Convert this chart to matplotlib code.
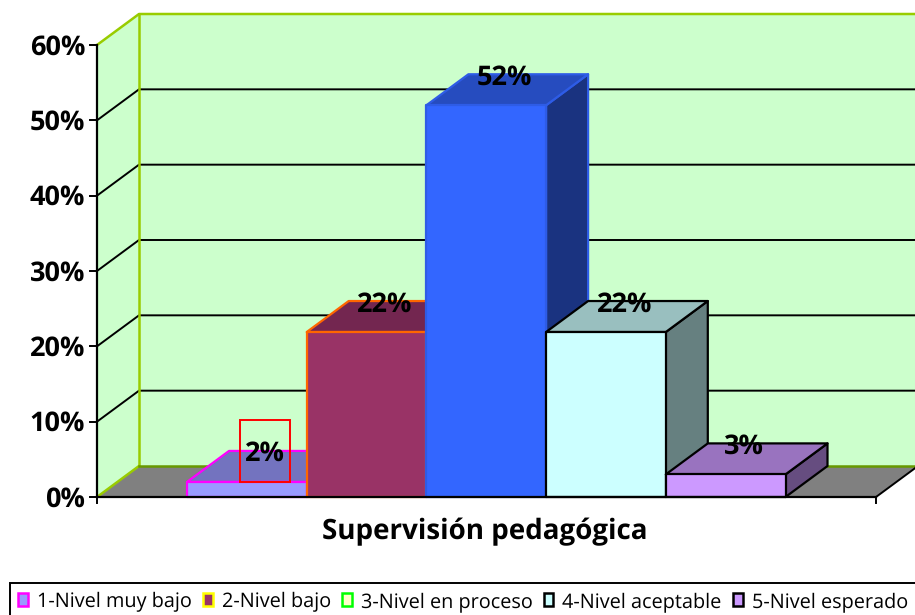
import matplotlib
matplotlib.use("Agg")
import matplotlib.pyplot as plt
from matplotlib.patches import Polygon, Rectangle, Patch

plt.rcParams["text.hinting"] = "no_hinting"

series = ["1-Nivel muy bajo", "2-Nivel bajo", "3-Nivel en proceso", "4-Nivel aceptable", "5-Nivel esperado"]
values = [2, 22, 52, 22, 3]
heights = [2.0, 21.9, 52.0, 21.9, 3.0]
yticks = [0, 10, 20, 30, 40, 50, 60]
axis_title = "Supervisión pedagógica"

front = ["#9999FF", "#993366", "#3366FF", "#CCFFFF", "#CC99FF"]
top = ["#7373BF", "#732650", "#264CBF", "#99BFBF", "#9973BF"]
side = ["#4D4D80", "#4D1A33", "#1A3380", "#668080", "#664D80"]
edge = ["#FF00FF", "#FF6600", "#2E5CE6", "#000000", "#000000"]
legend_fill = ["#9999FF", "#993366", "#FFFFCC", "#CCFFFF", "#CC99FF"]
legend_edge = ["#FF00FF", "#FFFF00", "#00FF00", "#000000", "#000000"]

PXU = 119.7       # pixels per bar
PXV = 452 / 60.0  # pixels per percent
DX = 42 / PXU
DY = 31 / PXV
FLOOR_L = (97 - 187) / PXU
FLOOR_R = (876 - 187) / PXU
GREEN = "#99CC00"
FONT = "Open Sans"

fig = plt.figure(figsize=(9.15, 6.15), dpi=100)
ax = fig.add_axes([0, 0, 1, 1])
ax.set_xlim(-187 / PXU, (915 - 187) / PXU)
ax.set_ylim(-(615 - 497) / PXV, 497 / PXV)
ax.axis("off")

ymax = yticks[-1]
# left wall, back wall, floor
ax.add_patch(Polygon([(FLOOR_L, 0), (FLOOR_L + DX, DY), (FLOOR_L + DX, ymax + DY), (FLOOR_L, ymax)],
                     fc="#CCFFCC", ec="none", zorder=1))
ax.add_patch(Polygon([(FLOOR_L + DX, DY), (FLOOR_R + DX, DY), (FLOOR_R + DX, ymax + DY), (FLOOR_L + DX, ymax + DY)],
                     fc="#CCFFCC", ec="none", zorder=1))
ax.add_patch(Polygon([(FLOOR_L, 0), (FLOOR_R, 0), (FLOOR_R + DX, DY), (FLOOR_L + DX, DY)],
                     fc="#808080", ec="none", zorder=1))
# gridlines
for v in yticks[1:-1]:
    ax.plot([FLOOR_L, FLOOR_L + DX, FLOOR_R + DX], [v, v + DY, v + DY], color="black", lw=1.4, zorder=2)
# wall outline
ax.plot([FLOOR_L, FLOOR_L + DX, FLOOR_R + DX], [ymax, ymax + DY, ymax + DY], color=GREEN, lw=1.8, zorder=2)
ax.plot([FLOOR_L + DX, FLOOR_L + DX], [DY, ymax + DY], color=GREEN, lw=1.8, zorder=2)
ax.plot([FLOOR_L, FLOOR_L + DX], [0, DY], color=GREEN, lw=1.8, zorder=2)
ax.plot([FLOOR_L + DX, FLOOR_R + DX], [DY, DY], color="#669900", lw=1.8, zorder=2)
ax.plot([FLOOR_R, FLOOR_R + DX], [0, DY], color="black", lw=1.4, zorder=2)

# bars
for i, h in enumerate(heights):
    z = 3 + i
    x0, x1 = i, i + 1
    kw = dict(ec=edge[i], lw=1.6, joinstyle="round", zorder=z)
    ax.add_patch(Polygon([(x1, 0), (x1 + DX, DY), (x1 + DX, h + DY), (x1, h)], fc=side[i], **kw))
    ax.add_patch(Polygon([(x0, h), (x1, h), (x1 + DX, h + DY), (x0 + DX, h + DY)], fc=top[i], **kw))
    ax.add_patch(Polygon([(x0, 0), (x1, 0), (x1, h), (x0, h)], fc=front[i], **kw))

# axes lines and ticks
ax.plot([FLOOR_L, FLOOR_L], [0, ymax], color="black", lw=1.6, zorder=10)
ax.plot([FLOOR_L, FLOOR_R], [0, 0], color="black", lw=1.6, zorder=10)
ax.plot([FLOOR_R, FLOOR_R], [0, -6 / PXV], color="black", lw=1.4, zorder=10)
ax.plot([FLOOR_L, FLOOR_L], [0, -6 / PXV], color="black", lw=1.4, zorder=10)
for v in yticks:
    ax.plot([FLOOR_L - 7 / PXU, FLOOR_L], [v, v], color="black", lw=1.4, zorder=10)
    ax.text(FLOOR_L - 12 / PXU, v + 0.1, f"{v}%", ha="right", va="center_baseline",
            fontsize=19.5, fontweight="bold", family=FONT, color="black", zorder=11)

# data labels
for i, (h, v) in enumerate(zip(heights, values)):
    ax.text(i + 0.5 + 0.155, h + DY, f"{v}%", ha="center", va="center_baseline",
            fontsize=19.5, fontweight="bold", family=FONT, color="black", zorder=12)
# red frame of the first label
ax.add_patch(Rectangle(((240 - 187) / PXU, heights[0]), 50 / PXU, 62 / PXV,
                       fc="none", ec="#FF0000", lw=1.4, zorder=11))

ax.text((485 - 187) / PXU, -(532 - 497) / PXV, axis_title, ha="center", va="center",
        fontsize=20, fontweight="bold", family=FONT, color="black")

handles = [Patch(fc=f, ec=e, lw=1.8) for f, e in zip(legend_fill, legend_edge)]
leg = ax.legend(handles, series, loc="lower left",
                bbox_to_anchor=(10 / 915, -5 / 615), bbox_transform=fig.transFigure,
                ncol=5, frameon=True, fancybox=False, edgecolor="black", framealpha=1,
                handlelength=0.5, handleheight=0.62, handletextpad=0.45, columnspacing=0.55,
                borderpad=0.42, borderaxespad=0, prop={"family": FONT, "size": 14.3})
leg.get_frame().set_linewidth(1.4)
leg.set_zorder(20)

fig.savefig("out.png", dpi=100)
